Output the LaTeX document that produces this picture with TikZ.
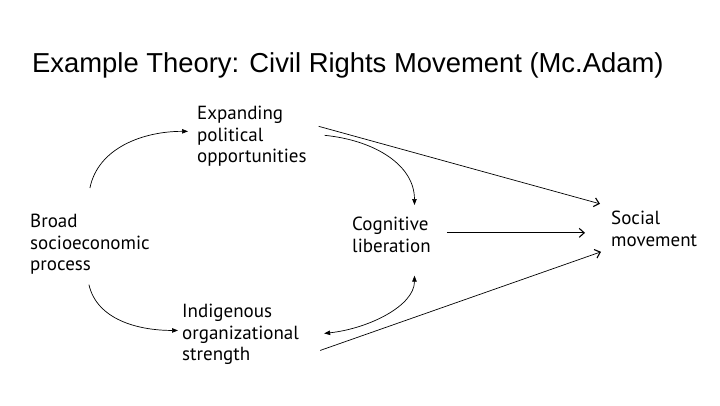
\documentclass[tikz,border=0pt]{standalone}
\usepackage{fontspec}
\setmainfont{Liberation Sans}
\newfontfamily\diagfont{PT Sans}
\usetikzlibrary{arrows.meta}
\begin{document}
\begin{tikzpicture}[x=1pt,y=-1pt,
  lbl/.style={anchor=north west, align=left, inner sep=0pt,
    font=\diagfont\fontsize{19}{21.5}\selectfont},
  conn/.style={line width=0.7pt, black},
  openarr/.style={conn, -{Straight Barb[length=5pt,width=9pt,line width=1.1pt]}},
  triarr/.style={conn, -{Triangle[length=6pt,width=4.5pt]}},
  dblarr/.style={conn, {Triangle[length=6pt,width=4.5pt]}-{Triangle[length=6pt,width=4.5pt]}}
]
\useasboundingbox[fill=white] (0,0) rectangle (720,405);
\node[anchor=base west, inner sep=0pt, font=\fontsize{27.4}{30}\selectfont] (title) at (32,72)
  {Example Theory: Civil Rights Movement (Mc.Adam)};

\node[lbl] (exp) at (197,106) {Expanding\\political\\opportunities};
\node[lbl] (broad) at (30,214) {Broad\\socioeconomic\\process};
\node[lbl] (cog) at (352,217) {Cognitive\\liberation};
\node[lbl] (soc) at (611,211) {Social\\movement};
\node[lbl] (ind) at (182,304) {Indigenous\\organizational\\strength};

% broad -> expanding
\draw[triarr] ([shift={(0,-26)}]broad.north) .. controls +(8,-40) and +(-45,0) .. ([shift={(-9,-5)}]exp.west);
% broad -> indigenous
\draw[triarr] ([shift={(-1,10)}]broad.south) .. controls +(8,35) and +(-40,0) .. ([shift={(-4,-4)}]ind.west);
% expanding -> cognitive
\draw[triarr] ([shift={(18,-1)}]exp.east) .. controls +(50,5) and +(0,-40) .. ([shift={(23,-12)}]cog.north);
% indigenous <-> cognitive
\draw[dblarr] ([shift={(25,-1)}]ind.east) .. controls +(45,-5) and +(0,30) .. ([shift={(23,23)}]cog.south);
% cognitive -> social
\draw[openarr] ([shift={(16,-2)}]cog.east) -- ([shift={(-26,4)}]soc.west);
% expanding -> social
\draw[openarr] ([shift={(12,-10)}]exp.east) -- ([shift={(-11,-25)}]soc.west);
% indigenous -> social
\draw[openarr] ([shift={(21,16)}]ind.east) -- ([shift={(-10,23)}]soc.west);
\end{tikzpicture}
\end{document}
